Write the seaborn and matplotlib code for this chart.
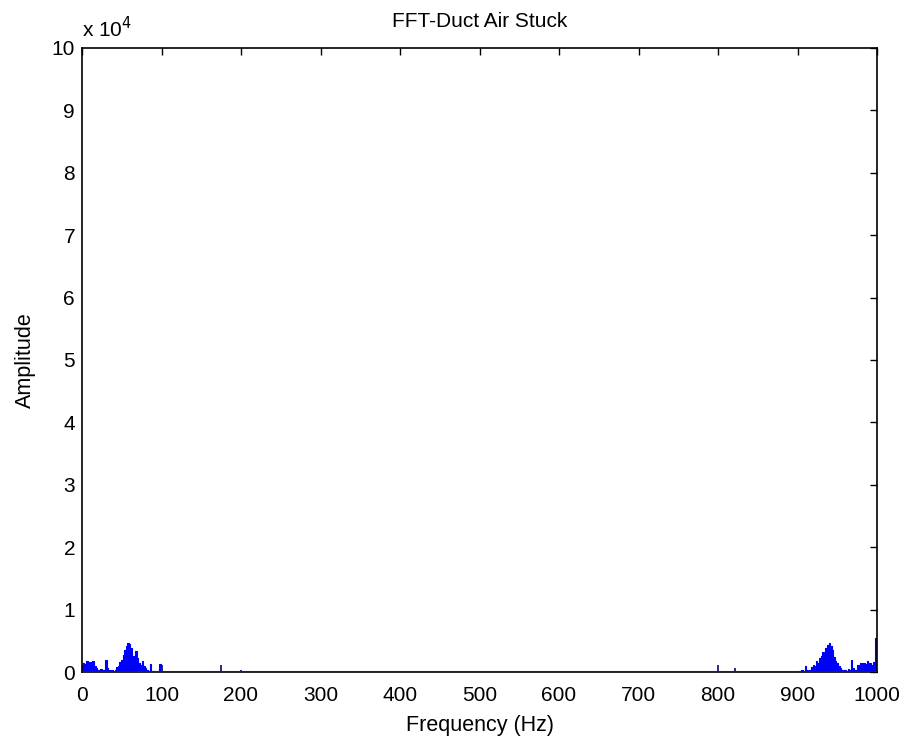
import numpy as np
import pandas as pd
import matplotlib
matplotlib.use("Agg")
import matplotlib.pyplot as plt
import seaborn as sns

# ---- data ----
low_freq = [0, 2, 4, 6, 8, 10, 12, 14, 16, 18, 20, 22, 24, 26, 28, 30, 32, 34, 36, 38,
            40, 42, 44, 46, 48, 50, 52, 54, 56, 58, 60, 62, 64, 66, 68, 70, 72, 74, 76, 78,
            80, 82, 84, 86, 88, 90, 92, 94, 96, 98, 100]
low_amp = [1200, 1500, 1300, 1700, 1200, 1600, 1400, 1700, 1000, 600, 400, 300, 500, 300, 400,
           2000, 600, 300, 200, 300, 200, 400, 800, 1000, 1600, 2000, 2800, 3600, 4200, 4700,
           4500, 3800, 2600, 2000, 3400, 2200, 1500, 1200, 1700, 1000, 600, 300, 200, 1300,
           200, 100, 100, 100, 100, 1300, 100]
high_freq = [900, 902, 904, 906, 908, 910, 912, 914, 916, 918, 920, 922, 924, 926, 928, 930,
             932, 934, 936, 938, 940, 942, 944, 946, 948, 950, 952, 954, 956, 958, 960, 962,
             964, 966, 968, 970, 972, 974, 976, 978, 980, 982, 984, 986, 988, 990, 992, 994,
             996, 998, 1000]
high_amp = [100, 200, 100, 300, 200, 1000, 300, 200, 400, 800, 1200, 1000, 1800, 1400, 2200,
            2600, 3200, 2800, 3800, 4400, 4700, 4200, 3500, 2400, 1800, 1500, 900, 600, 300,
            400, 300, 200, 500, 400, 2000, 600, 300, 400, 1200, 800, 1500, 1000, 1500, 1300,
            1700, 1400, 1500, 1200, 1600, 5400, 5400]
spike_freq = [101, 175, 200, 800, 821]
spike_amp = [1200, 1100, 400, 1100, 600]

x_ticks = list(range(0, 1001, 100))
y_ticks = list(range(0, 100001, 10000))
y_tick_labels = [str(v) for v in range(0, 11)]

# ---- styling ----
sns.set_style("white")
plt.rcParams['font.family'] = ['Liberation Sans', 'DejaVu Sans']
plt.rcParams['text.color'] = 'black'
plt.rcParams['axes.labelcolor'] = 'black'

fig = plt.figure(figsize=(9.06, 7.47), dpi=100)
ax = fig.add_axes([82 / 906, 75 / 747, 795 / 906, 624 / 747])

df = pd.DataFrame({
    "freq": low_freq + high_freq,
    "amp": low_amp + high_amp,
    "band": ["low"] * len(low_freq) + ["high"] * len(high_freq),
})
blue = "#0000ff"
for band, sub in df.groupby("band"):
    ax.fill_between(sub["freq"], 0, sub["amp"], step="mid", color=blue, linewidth=0)
sns.lineplot(data=df, x="freq", y="amp", units="band", estimator=None,
             drawstyle="steps-mid", color=blue, lw=0.8, ax=ax)
ax.vlines(spike_freq, 0, spike_amp, color="#1a1a6e", lw=1.3)
ax.axhline(0, color="#1a1a6e", lw=2.2, zorder=3)

ax.set_xlim(0, 1000)
ax.set_ylim(0, 100000)
ax.set_xticks(x_ticks)
ax.set_yticks(y_ticks)
ax.set_yticklabels(y_tick_labels)
ax.tick_params(direction="in", length=5, width=1, top=True, right=True,
               labelsize=15, colors="black")
ax.tick_params(axis="x", pad=10)
ax.tick_params(axis="y", pad=5)
for s in ax.spines.values():
    s.set_visible(True)
    s.set_color("black")
    s.set_linewidth(1.2)

ax.set_title("FFT-Duct Air Stuck", fontsize=15, pad=15, color="black")
ax.set_xlabel("Frequency (Hz)", fontsize=15.5, labelpad=7, color="black")
ax.set_ylabel("Amplitude", fontsize=15.5, labelpad=11, color="black")
ax.text(0.0, 1.018, r"x 10$^{4}$", transform=ax.transAxes, fontsize=15,
        ha="left", va="baseline", color="black")

fig.savefig("out.png", dpi=100, facecolor="white")
